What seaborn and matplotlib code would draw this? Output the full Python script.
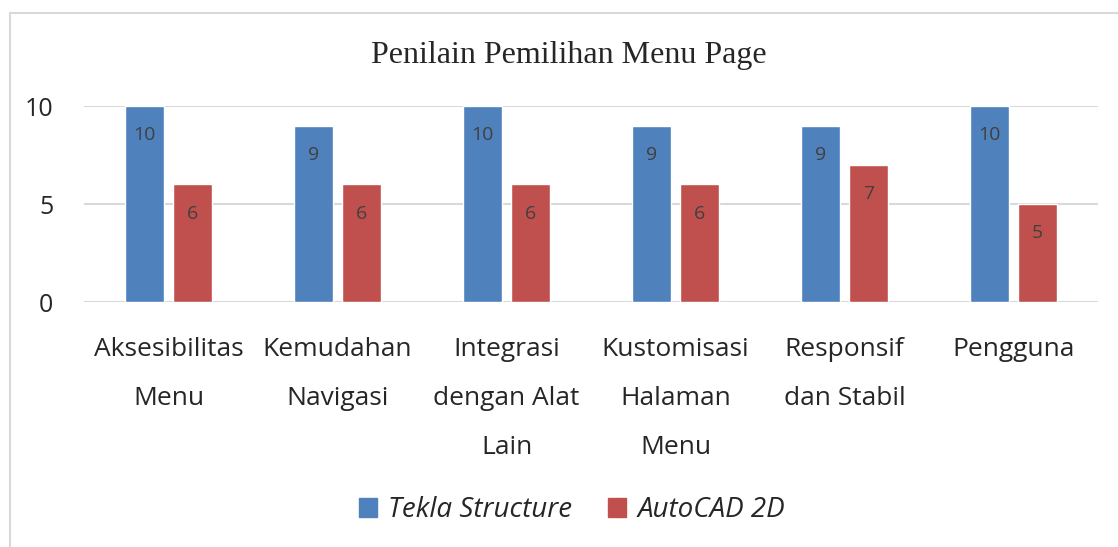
import matplotlib
matplotlib.use("Agg")
import matplotlib.pyplot as plt
import pandas as pd
import seaborn as sns
from matplotlib.patches import Rectangle

# data
categories = ["Aksesibilitas\nMenu", "Kemudahan\nNavigasi", "Integrasi\ndengan Alat\nLain",
              "Kustomisasi\nHalaman\nMenu", "Responsif\ndan Stabil", "Pengguna"]
tekla = [10, 9, 10, 9, 9, 10]
autocad = [6, 6, 6, 6, 7, 5]
series = ["Tekla Structure", "AutoCAD 2D"]
colors = ["#4F81BD", "#C0504D"]

sns.set_theme(style="white")
plt.rcParams["font.family"] = ["Open Sans", "DejaVu Sans"]

# Long format for seaborn
df = pd.DataFrame({"Kategori": categories * 2,
                   "Nilai": tekla + autocad,
                   "Software": [series[0]] * 6 + [series[1]] * 6})

fig = plt.figure(figsize=(11.18, 5.47), dpi=100)
ax = fig.add_axes([84 / 1118, 245 / 547, 1014 / 1118, 196 / 547])

sns.barplot(data=df, x="Kategori", y="Nilai", hue="Software", palette=colors,
            width=0.568, gap=0.208, saturation=1, ax=ax, legend=False)

# value labels inside the top of each bar
for cont in ax.containers:
    for bar in cont:
        h = bar.get_height()
        ax.annotate(f"{h:.0f}", (bar.get_x() + bar.get_width() / 2, h),
                    xytext=(0, -21), textcoords="offset points",
                    ha="center", va="center", fontsize=14, color="#404040")

ax.set_ylim(0, 10)
ax.set_yticks([0, 5, 10])
ax.yaxis.grid(True, color="#d9d9d9", linewidth=1.5)
ax.set_axisbelow(True)
for s in ax.spines.values():
    s.set_visible(False)
ax.tick_params(axis="y", length=0, pad=22, labelsize=18)
ax.tick_params(axis="x", length=0, pad=25, labelsize=19)
for lab in ax.get_xticklabels():
    lab.set_linespacing(2.26)
    lab.set_verticalalignment("top")
ax.set_xlabel("")
ax.set_ylabel("")

fig.text(569 / 1118, 1 - 55 / 547, "Penilain Pemilihan Menu Page", ha="center", va="center",
         fontsize=23, family="Liberation Serif")

# legend at the bottom
handles = [Rectangle((0, 0), 1, 1, color=c) for c in colors]
fig.legend(handles, series, loc="center", bbox_to_anchor=(572 / 1118, 1 - 510 / 547),
           ncol=2, frameon=False, prop={"style": "italic", "size": 20},
           handlelength=0.65, handleheight=0.65, columnspacing=1.3, handletextpad=0.4)

# thin chart border
fig.add_artist(Rectangle((10 / 1118, -0.01), 1.1, 1 - 13 / 547 + 0.01, transform=fig.transFigure,
                         fill=False, edgecolor="#d9d9d9", linewidth=1.5))

fig.savefig("out.png", dpi=100)
